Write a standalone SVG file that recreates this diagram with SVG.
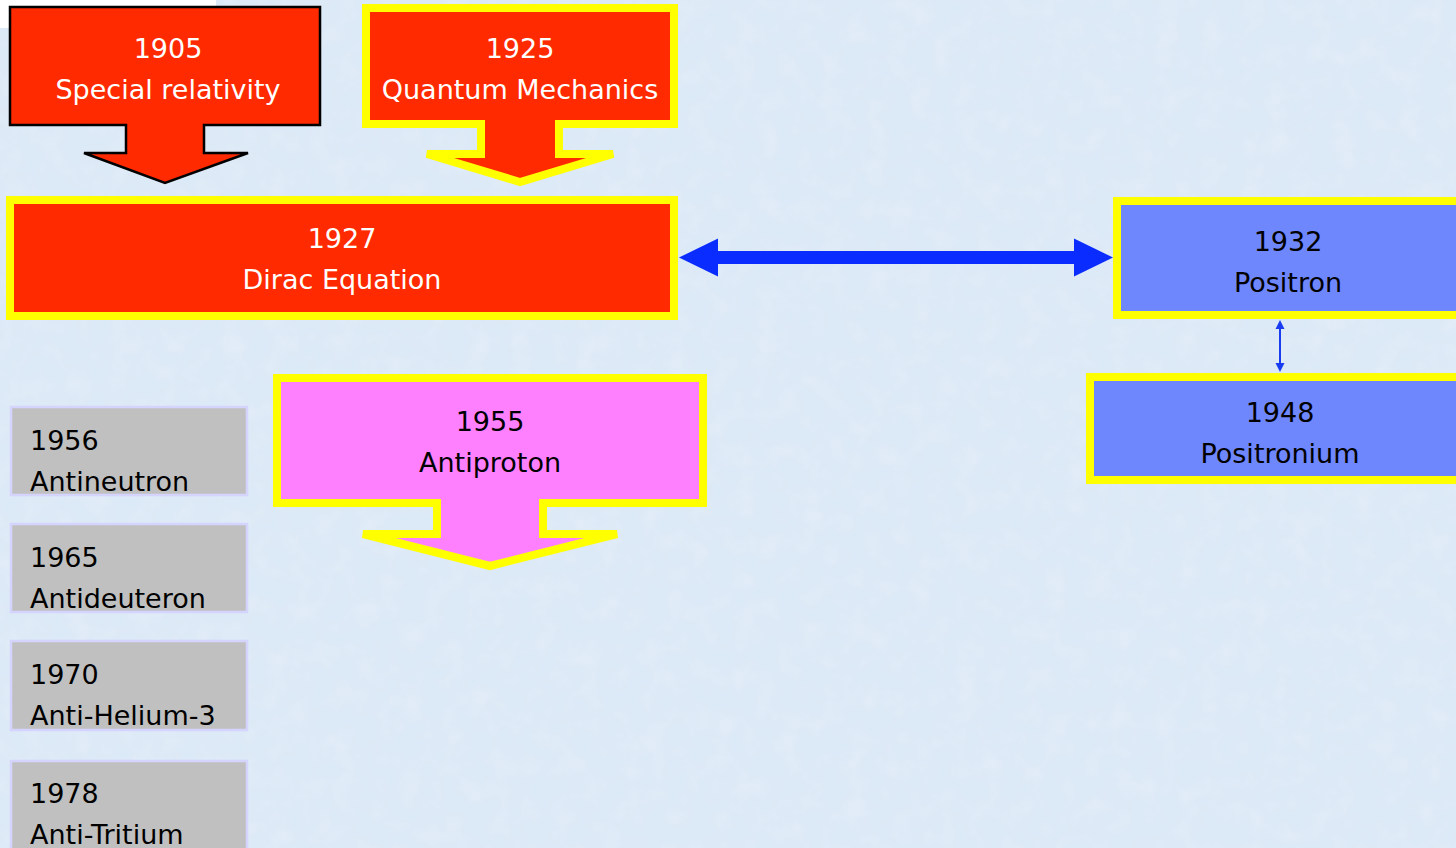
<svg xmlns="http://www.w3.org/2000/svg" width="1456" height="848" viewBox="0 0 1456 848">
<defs>
<filter id="tex" x="0" y="0" width="100%" height="100%">
<feTurbulence type="fractalNoise" baseFrequency="0.045" numOctaves="3" seed="4"/>
<feColorMatrix type="matrix" values="0 0 0 0 1  0 0 0 0 1  0 0 0 0 1  0 0 0 0.55 -0.2"/>
</filter>
<marker id="bigHead" markerUnits="userSpaceOnUse" markerWidth="40" markerHeight="40" viewBox="0 -20 40 40" refX="2" refY="0" orient="auto-start-reverse">
<path d="M0,-19 L39,0 L0,19 Z" fill="#0a2cff"/>
</marker>
<marker id="smallHead" markerUnits="userSpaceOnUse" markerWidth="10" markerHeight="10" viewBox="0 -5 10 10" refX="1" refY="0" orient="auto-start-reverse">
<path d="M0,-4.5 L9,0 L0,4.5 Z" fill="#1a3cf0"/>
</marker>
</defs>
<style>
.t{font-family:"DejaVu Sans","Liberation Sans",sans-serif;font-size:27px;}
.w{fill:#ffffff;}
.k{fill:#000000;}
.c{text-anchor:middle;}
.red{fill:#ff2a00;}
.ybox{stroke:#ffff00;stroke-width:8;stroke-linejoin:miter;}
.blue{fill:#6f87fc;}
.pink{fill:#ff80ff;}
.gray{fill:#c0c0c0;stroke:#d4d4ff;stroke-width:2.5;}
</style>
<rect x="0" y="0" width="1456" height="848" fill="#dce9f6"/>
<rect x="0" y="0" width="1456" height="848" filter="url(#tex)" opacity="0.5"/>
<rect x="0" y="0" width="216" height="28" fill="#ffffff"/>

<g id="connectors">
<line x1="716" y1="257.5" x2="1076" y2="257.5" stroke="#0a2cff" stroke-width="13" marker-start="url(#bigHead)" marker-end="url(#bigHead)"/>
<line x1="1280" y1="328" x2="1280" y2="364" stroke="#1a3cf0" stroke-width="2" marker-start="url(#smallHead)" marker-end="url(#smallHead)"/>
</g>

<g id="n1905">
<path class="red" d="M10,7 L320,7 L320,125 L204,125 L204,153 L248,153 L165,183 L84,153 L126,153 L126,125 L10,125 Z" stroke="#000" stroke-width="2.5" stroke-linejoin="miter"/>
<text class="t w c" x="168" y="58">1905</text>
<text class="t w c" x="168" y="99">Special relativity</text>
</g>

<g id="n1925">
<path class="red ybox" d="M366,8 L674,8 L674,124 L559,124 L559,154 L613,154 L520,182 L427,154 L481,154 L481,124 L366,124 Z"/>
<text class="t w c" x="520" y="58">1925</text>
<text class="t w c" x="520" y="99">Quantum Mechanics</text>
</g>

<g id="n1927">
<rect class="red ybox" x="10" y="200" width="664" height="116"/>
<text class="t w c" x="342" y="248">1927</text>
<text class="t w c" x="342" y="289">Dirac Equation</text>
</g>

<g id="n1932">
<rect class="blue ybox" x="1117" y="201" width="350" height="114"/>
<text class="t k c" x="1288" y="251">1932</text>
<text class="t k c" x="1288" y="292">Positron</text>
</g>

<g id="n1948">
<rect class="blue ybox" x="1090" y="377" width="380" height="103"/>
<text class="t k c" x="1280" y="422">1948</text>
<text class="t k c" x="1280" y="463">Positronium</text>
</g>

<g id="n1955">
<path class="pink ybox" d="M277,378 L703,378 L703,503 L543,503 L543,534 L617,534 L490,566 L363,534 L437,534 L437,503 L277,503 Z"/>
<text class="t k c" x="490" y="431">1955</text>
<text class="t k c" x="490" y="472">Antiproton</text>
</g>

<g id="n1956">
<rect class="gray" x="11" y="407" width="236" height="88"/>
<text class="t k" x="30" y="450">1956</text>
<text class="t k" x="30" y="491">Antineutron</text>
</g>

<g id="n1965">
<rect class="gray" x="11" y="524" width="236" height="88"/>
<text class="t k" x="30" y="567">1965</text>
<text class="t k" x="30" y="608">Antideuteron</text>
</g>

<g id="n1970">
<rect class="gray" x="11" y="641" width="236" height="89"/>
<text class="t k" x="30" y="684">1970</text>
<text class="t k" x="30" y="725">Anti-Helium-3</text>
</g>

<g id="n1978">
<rect class="gray" x="11" y="761" width="236" height="100"/>
<text class="t k" x="30" y="803">1978</text>
<text class="t k" x="30" y="844">Anti-Tritium</text>
</g>
</svg>
